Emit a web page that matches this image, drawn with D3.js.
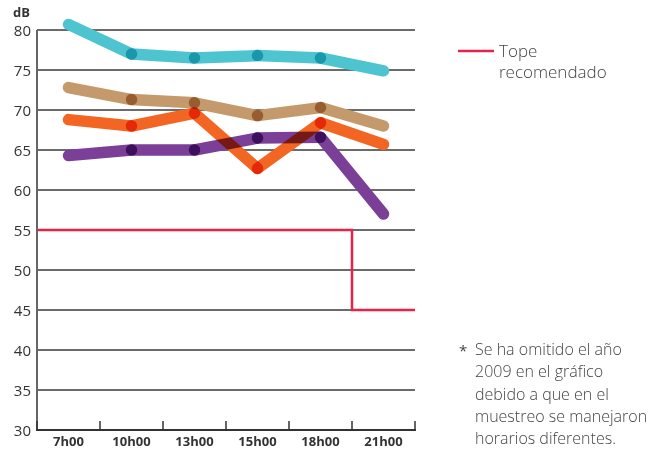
<!DOCTYPE html>
<html><head><meta charset="utf-8">
<script src="https://cdn.jsdelivr.net/npm/d3@7"></script>
<style>
body{margin:0;background:#fff;}
svg{display:block;font-family:"Open Sans","Noto Sans",sans-serif;}
</style></head>
<body><svg id="c" width="652" height="450"></svg>
<script>
const hours = ["7h00","10h00","13h00","15h00","18h00","21h00"];
const cyanVals   = [80.7, 77.0, 76.5, 76.8, 76.5, 74.9];
const brownVals  = [72.8, 71.3, 70.9, 69.3, 70.3, 68.0];
const orangeVals = [68.8, 68.0, 69.6, 62.7, 68.4, 65.7];
const purpleVals = [64.3, 65.0, 65.0, 66.5, 66.6, 57.0];
const limitSteps = [[0,55],[5,55],[5,45],[6,45]]; // band-edge index, dB
const yTicks = [30,35,40,45,50,55,60,65,70,75,80];
const legendLines = ["Tope","recomendado"];
const noteLines = ["Se ha omitido el año","2009 en el gráfico","debido a que en el","muestreo se manejaron","horarios diferentes."];

const series = [
  {name:"cyan", color:"#4fc4d1", values:cyanVals},
  {name:"brown", color:"#c49a6c", values:brownVals},
  {name:"orange", color:"#f26522", values:orangeVals},
  {name:"purple", color:"#7b3f98", values:purpleVals}
];

const svg = d3.select("#c");
const L=37, R=415, T=30, B=430;
const x = d3.scaleBand().domain(hours).range([L,R]).padding(0);
const xEdge = d3.scaleLinear().domain([0,hours.length]).range([L,R]);
const y = d3.scaleLinear().domain([30,80]).range([B,T]);

// gridlines
svg.append("g").selectAll("line").data(yTicks.filter(d=>d>30)).join("line")
  .attr("x1",L).attr("x2",R).attr("y1",d=>y(d)).attr("y2",d=>y(d))
  .attr("stroke","#3a3a3a").attr("stroke-width",1.5);

// y labels
svg.append("g").selectAll("text").data(yTicks).join("text")
  .attr("x",31).attr("y",d=>y(d)+6).attr("text-anchor","end")
  .attr("font-size",15).attr("fill","#333").text(d=>d);
svg.append("text").attr("x",13).attr("y",17).attr("font-size",13).attr("font-weight","bold")
  .attr("fill","#333").text("dB");

// red limit
const lineGen = d3.line().x(d=>xEdge(d[0])).y(d=>y(d[1]));
svg.append("path").attr("d",lineGen(limitSteps)).attr("fill","none")
  .attr("stroke","#e8234a").attr("stroke-width",2.5);

// y axis
svg.append("line").attr("x1",L).attr("x2",L).attr("y1",T).attr("y2",B+1)
  .attr("stroke","#666").attr("stroke-width",2);

// x axis
const xAxis = d3.axisBottom(x).tickSize(0).tickPadding(7);
const gx = svg.append("g").attr("transform",`translate(0,${B})`).call(xAxis);
gx.select(".domain").remove();
gx.selectAll("text").attr("font-size",13).attr("font-weight","bold").attr("fill","#333")
  .attr("font-family","Open Sans, Noto Sans, sans-serif");
svg.append("line").attr("x1",L-1).attr("x2",R+1).attr("y1",B).attr("y2",B)
  .attr("stroke","#333").attr("stroke-width",2);
svg.append("g").selectAll("line").data(d3.range(hours.length+1)).join("line")
  .attr("x1",d=>xEdge(d)).attr("x2",d=>xEdge(d)).attr("y1",B-9).attr("y2",B)
  .attr("stroke","#333").attr("stroke-width",1.5);

// data lines: segments with multiply blend
const lg = svg.append("g").style("isolation","isolate");
series.forEach(s=>{
  const segs = d3.pairs(s.values.map((v,i)=>[x(hours[i])+x.bandwidth()/2, y(v)]));
  lg.append("g").selectAll("line").data(segs).join("line")
    .attr("x1",d=>d[0][0]).attr("y1",d=>d[0][1]).attr("x2",d=>d[1][0]).attr("y2",d=>d[1][1])
    .attr("stroke",s.color).attr("stroke-width",11.5).attr("stroke-linecap","round")
    .style("mix-blend-mode","multiply");
});

// legend
svg.append("line").attr("x1",458).attr("x2",494).attr("y1",51).attr("y2",51)
  .attr("stroke","#e8234a").attr("stroke-width",2.5);
svg.append("g").selectAll("text").data(legendLines).join("text")
  .attr("x",499).attr("y",(d,i)=>57+i*21).attr("font-size",17).attr("font-weight",300)
  .attr("fill","#444").text(d=>d);

// note
svg.append("text").attr("x",459).attr("y",356).attr("font-size",15).attr("fill","#444").text("*");
svg.append("g").selectAll("text").data(noteLines).join("text")
  .attr("x",475).attr("y",(d,i)=>355+i*22.3).attr("font-size",16).attr("font-weight",300)
  .attr("fill","#444").text(d=>d);
</script></body></html>
